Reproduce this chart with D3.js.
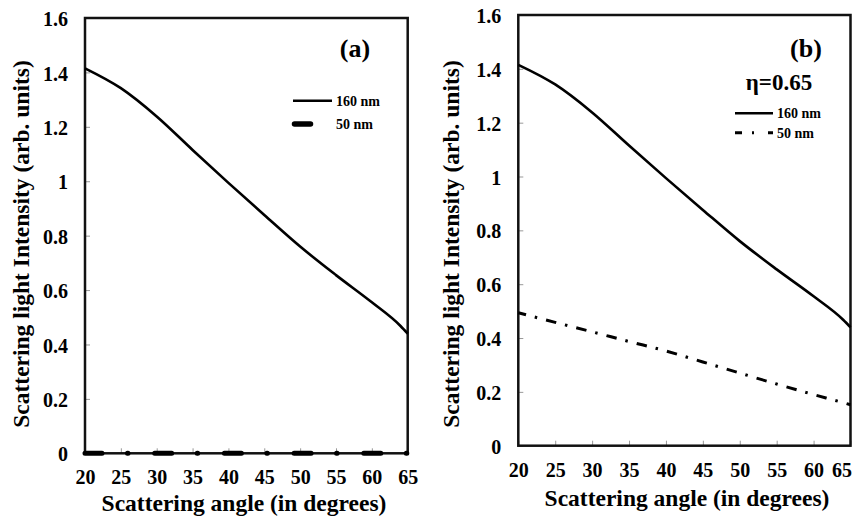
<!DOCTYPE html>
<head>
<meta charset="utf-8">
<script src="https://d3js.org/d3.v7.min.js"></script>
<style>
body { margin: 0; background: #fff; }
text { font-family: "Liberation Serif", "Times New Roman", serif; font-weight: bold; }
</style>
</head>
<body>
<div id="chart"></div>
<script>

// data
var angles  = [20, 25, 30, 35, 40, 45, 50, 55, 60, 64, 65];
var i160    = [1.415, 1.342, 1.238, 1.115, 0.994, 0.876, 0.760, 0.655, 0.555, 0.468, 0.44];
var i50a    = [0, 0, 0, 0, 0, 0, 0, 0, 0, 0, 0];
var i50b    = [0.494, 0.458, 0.423, 0.387, 0.352, 0.311, 0.270, 0.229, 0.190, 0.160, 0.152];
var xTicks  = [20, 25, 30, 35, 40, 45, 50, 55, 60, 65];
var yTicks  = [0, 0.2, 0.4, 0.6, 0.8, 1, 1.2, 1.4, 1.6];
var seriesNames = ["160 nm", "50 nm"];

var W = 864, H = 519;
var svg = d3.select("#chart").append("svg")
  .attr("width", W).attr("height", H);

var drawPanel = function(p) {
  var x = d3.scaleLinear().domain([20, 65]).range([p.left, p.right]);
  var y = d3.scaleLinear().domain([0, 1.6]).range([p.bottom, p.top]);
  var g = svg.append("g");

  // x axis (ticks inward)
  var gx = g.append("g")
    .attr("transform", "translate(0," + p.bottom + ")")
    .call(d3.axisBottom(x).tickValues(xTicks).tickSizeInner(-5).tickSizeOuter(0).tickPadding(17));
  gx.select(".domain").remove();
  gx.selectAll(".tick line").attr("stroke", "#999");
  gx.attr("font-family", null).attr("font-size", 20);
  if (p.shiftLast) {
    gx.selectAll(".tick text").filter(function(d) { return d === 65; })
      .attr("text-anchor", "end").attr("x", 1);
  }

  // y axis
  var gy = g.append("g")
    .attr("transform", "translate(" + p.left + ",0)")
    .call(d3.axisLeft(y).tickValues(yTicks).tickSizeInner(-5).tickSizeOuter(0).tickPadding(17)
      .tickFormat(function(d) { return String(+d.toFixed(1)); }));
  gy.select(".domain").remove();
  gy.selectAll(".tick line").attr("stroke", "#999");
  gy.selectAll(".tick text").attr("dy", "0.38em");
  gy.attr("font-family", null).attr("font-size", 20);

  // frame
  g.append("rect")
    .attr("x", p.left).attr("y", p.top)
    .attr("width", p.right - p.left).attr("height", p.bottom - p.top)
    .attr("fill", "none").attr("stroke", "#111").attr("stroke-width", 2.5);

  var line = d3.line().curve(d3.curveMonotoneX)
    .x(function(d) { return x(d[0]); })
    .y(function(d) { return y(d[1]); });

  // 50 nm
  var d50 = angles.map(function(a, i) { return [a, p.i50[i]]; });
  var l50 = g.append("path").datum(d50)
    .attr("d", line)
    .attr("fill", "none").attr("stroke", "#000")
    .attr("stroke-width", p.w50)
    .attr("stroke-dasharray", p.dash50)
    .attr("stroke-dashoffset", p.dashOff);
  if (p.round50) l50.attr("stroke-linecap", "round");

  // 160 nm
  var d160 = angles.map(function(a, i) { return [a, i160[i]]; });
  g.append("path").datum(d160)
    .attr("d", line)
    .attr("fill", "none").attr("stroke", "#000").attr("stroke-width", 2.6);

  // axis titles
  g.append("text")
    .attr("x", p.xTitle[0]).attr("y", p.xTitle[1])
    .attr("text-anchor", "middle").attr("font-size", 23.5)
    .text("Scattering angle (in degrees)");
  g.append("text")
    .attr("transform", "translate(" + p.yTitle[0] + "," + p.yTitle[1] + ") rotate(-90)")
    .attr("text-anchor", "middle").attr("font-size", 23.5)
    .text("Scattering light Intensity (arb. units)");

  // panel label
  g.append("text")
    .attr("x", p.label[0]).attr("y", p.label[1])
    .attr("text-anchor", "middle").attr("font-size", 26)
    .text(p.labelText);
  if (p.eta) {
    g.append("text")
      .attr("x", p.eta[0]).attr("y", p.eta[1])
      .attr("text-anchor", "middle").attr("font-size", 23)
      .text("η=0.65");
  }

  // legend
  var lg = p.legend;
  g.append("line")
    .attr("x1", lg.x1).attr("x2", lg.x2).attr("y1", lg.y0).attr("y2", lg.y0)
    .attr("stroke", "#000").attr("stroke-width", 2.6);
  g.append("text").attr("x", lg.tx).attr("y", lg.y0 + 5)
    .attr("font-size", 14).text(seriesNames[0]);
  var ls = g.append("line")
    .attr("x1", lg.x1b).attr("x2", lg.x2b).attr("y1", lg.y1).attr("y2", lg.y1)
    .attr("stroke", "#000").attr("stroke-width", lg.wb);
  if (lg.dashb) ls.attr("stroke-dasharray", lg.dashb);
  if (p.round50) ls.attr("stroke-linecap", "round");
  g.append("text").attr("x", lg.tx2).attr("y", lg.y1 + 5)
    .attr("font-size", 14).text(seriesNames[1]);
};

drawPanel({
  left: 85, right: 407.7, top: 18, bottom: 453.3,
  i50: i50a, w50: 5, dash50: "17,25.5,0.5,26.7", dashOff: 0, round50: true,
  xTitle: [244, 511], yTitle: [29, 244],
  label: [355, 57], labelText: "(a)",
  legend: {x1: 293, x2: 332, y0: 100.7, tx: 336,
           x1b: 294.5, x2b: 310.5, y1: 124, wb: 5.5, tx2: 336}
});

drawPanel({
  left: 518.3, right: 850.5, top: 15, bottom: 445.7,
  i50: i50b, w50: 3, dash50: "10.5,9,2.5,9.2", dashOff: 2.5, round50: false,
  shiftLast: true,
  xTitle: [687, 506], yTitle: [459, 244],
  label: [806, 57], labelText: "(b)",
  eta: [779, 90],
  legend: {x1: 735, x2: 773, y0: 113.3, tx: 777,
           x1b: 735, x2b: 773, y1: 132.7, wb: 3, dashb: "7,10,2,14", tx2: 777}
});

</script>
</body>
